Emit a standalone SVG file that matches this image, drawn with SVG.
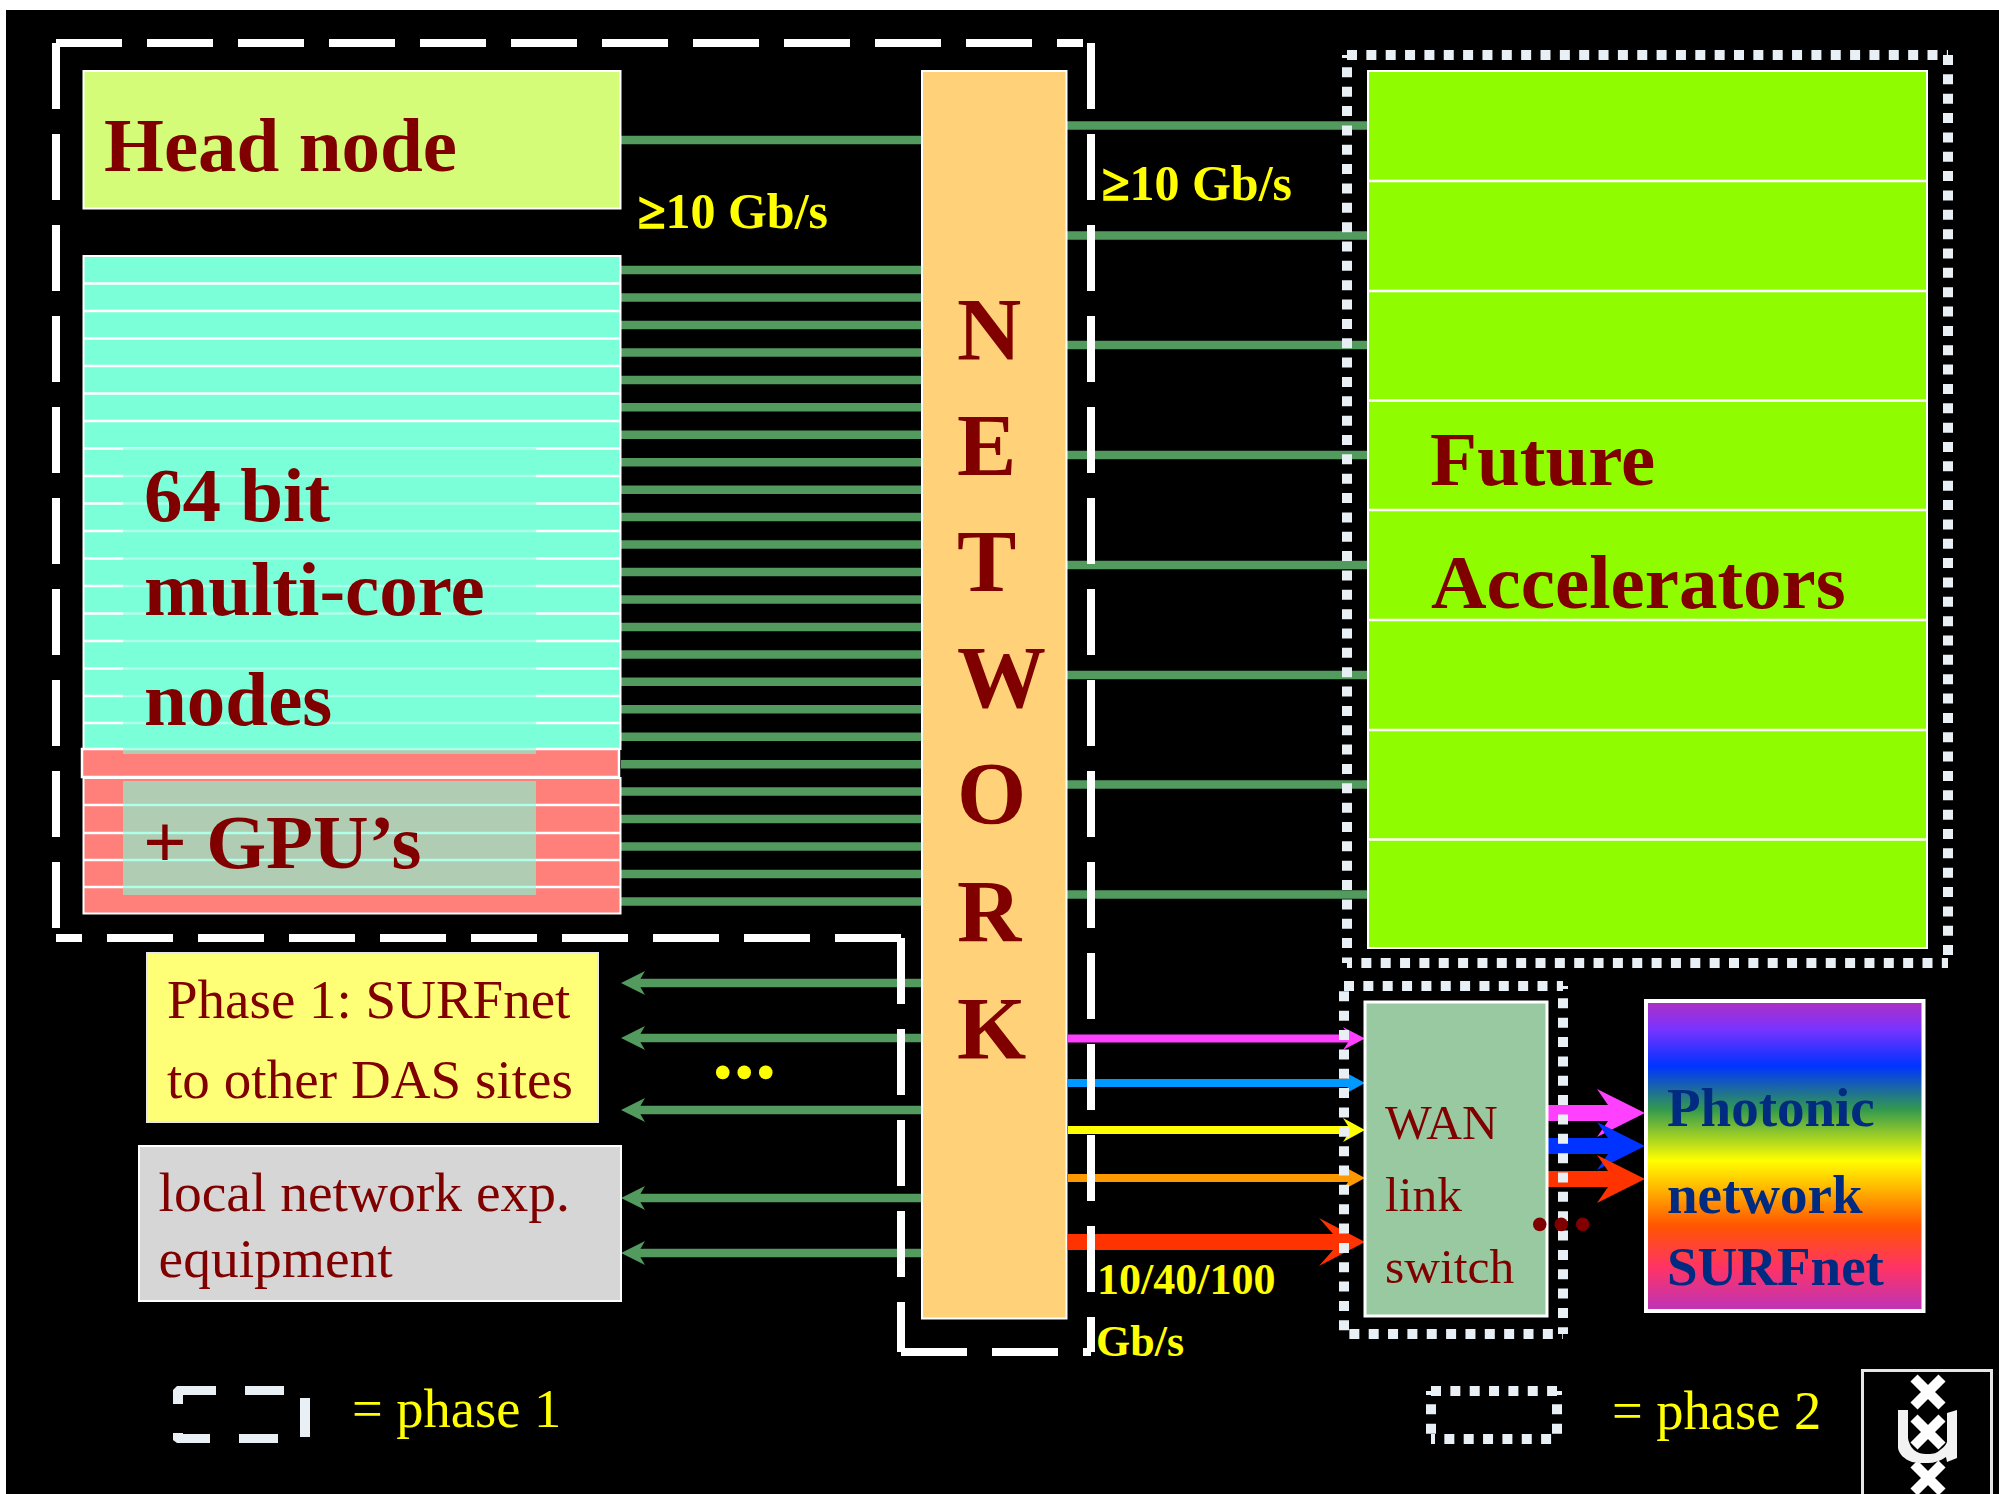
<svg xmlns="http://www.w3.org/2000/svg" width="1999" height="1494" viewBox="0 0 1999 1494">
<style>
.b{font-family:"Liberation Serif","Times New Roman",serif;font-weight:bold}
.r{font-family:"Liberation Serif","Times New Roman",serif}
.big{font-size:77px;fill:#800000}
.net{font-size:89px;fill:#800000}
.rate{font-size:50px;fill:#ffff00}
.ge{stroke:#ffff00;stroke-width:1.500}
.phase{font-size:55px;fill:#800000}
.wan{font-size:49.500px;fill:#800000}
.ph{font-size:55px;fill:#002b80}
.leg{font-size:54.500px;fill:#ffff00}
.gl{stroke:#529a5e;stroke-width:8.500;fill:none}
.rowline{stroke:#fff;stroke-width:2.500}
.dash{fill:none;stroke:#fff;stroke-width:8;stroke-dasharray:66 25}
.dot{fill:none;stroke:#e8eff5;stroke-width:10;stroke-dasharray:10 9.350}
.sol{fill:#e8eff5}
.x{stroke:#fff;stroke-width:10;fill:none}
</style>
<defs>
<linearGradient id="rainbow" x1="0" y1="0" x2="0" y2="1">
<stop offset="0" stop-color="#b030c0"/>
<stop offset="0.09" stop-color="#7a33ff"/>
<stop offset="0.21" stop-color="#0033ff"/>
<stop offset="0.35" stop-color="#33994f"/>
<stop offset="0.515" stop-color="#ffff00"/>
<stop offset="0.725" stop-color="#ff5500"/>
<stop offset="0.86" stop-color="#ff3366"/>
<stop offset="1" stop-color="#bb33bb"/>
</linearGradient>
<marker id="mg" markerUnits="userSpaceOnUse" markerWidth="24" markerHeight="26" refX="7" refY="13" orient="auto"><path d="M24 13L0 1L7 13L0 25Z" fill="#529a5e"/></marker>
</defs>
<rect x="6" y="10" width="1993" height="1484" fill="#000"/>

<g id="connectors">
<path class="gl" d="M621 140H922"/>
<path class="gl" d="M621 270H922M621 297.500H922M621 325H922M621 352.400H922M621 379.900H922M621 407.300H922M621 434.800H922M621 462.200H922M621 489.700H922M621 517.100H922M621 544.600H922M621 572H922M621 599.500H922M621 626.900H922M621 654.400H922M621 681.800H922M621 709.300H922M621 736.700H922M621 764.200H922M621 791.600H922M621 819.100H922M621 846.500H922M621 874H922M621 901.400H922"/>
<path class="gl" d="M1067 125.500H1368M1067 235.500H1368M1067 345H1368M1067 455H1368M1067 565H1368M1067 675H1368M1067 784.500H1368M1067 894.500H1368"/>
<path class="gl" marker-end="url(#mg)" d="M922 983H638"/>
<path class="gl" marker-end="url(#mg)" d="M922 1038H638"/>
<path class="gl" marker-end="url(#mg)" d="M922 1110H638"/>
<path class="gl" marker-end="url(#mg)" d="M922 1198H638"/>
<path class="gl" marker-end="url(#mg)" d="M922 1253H638"/>
<path fill="#ff40ff" d="M1068 1034.500H1348L1343 1027L1365 1038.500L1343 1050L1348 1042.500H1068Z"/>
<path fill="#0099ff" d="M1068 1079H1348L1343 1071L1365 1083L1343 1095L1348 1087H1068Z"/>
<path fill="#ffff00" d="M1068 1126H1348L1343 1118L1365 1130L1343 1142L1348 1134H1068Z"/>
<path fill="#ff9900" d="M1068 1174H1348L1343 1166L1365 1178L1343 1190L1348 1182H1068Z"/>
<path fill="#ff3300" d="M1068 1234H1333L1319 1218L1365 1242L1319 1266L1333 1250H1068Z"/>
<path fill="#ff40ff" d="M1547 1105H1608L1597 1089L1645 1113L1597 1137L1608 1121H1547Z"/>
<path fill="#0033ff" d="M1547 1138H1608L1597 1122L1645 1146L1597 1170L1608 1154H1547Z"/>
<path fill="#ff3300" d="M1547 1171H1608L1597 1155L1645 1179L1597 1203L1608 1187H1547Z"/>
</g>

<g id="head-node">
<rect x="83.500" y="71" width="537" height="137.500" fill="#d4fc79" stroke="#fff" stroke-width="2"/>
<text class="b big" x="104" y="171">Head node</text>
</g>

<g id="compute-nodes">
<rect x="83.500" y="256" width="537" height="493" fill="#7bffd9" stroke="#fff" stroke-width="2"/>
<path class="rowline" d="M83 283.500H621M83 311H621M83 338.500H621M83 366H621M83 393.500H621M83 421H621M83 448.500H621M83 476H621M83 503.500H621M83 531H621M83 558.500H621M83 586H621M83 613.500H621M83 641H621M83 668.500H621M83 696H621M83 723H621"/>
<rect x="82" y="749" width="537" height="28" fill="#ff7f7a" stroke="#fff" stroke-width="2.500"/>
<rect x="83.500" y="778" width="537" height="135.500" fill="#ff7f7a" stroke="#fff" stroke-width="2"/>
<path class="rowline" d="M83 805H621M83 833H621M83 860H621M83 887H621"/>
<rect x="123" y="448" width="413" height="306" fill="#7bffd9" fill-opacity="0.6"/>
<rect x="123" y="781" width="413" height="114" fill="#7bffd9" fill-opacity="0.6"/>
<text class="b big" x="144" y="520.500">64 bit</text>
<text class="b big" x="144" y="614.500">multi-core</text>
<text class="b big" x="144" y="725">nodes</text>
<text class="b big" x="143" y="868">+ GPU’s</text>
</g>

<g id="network">
<rect x="922" y="71" width="144.500" height="1247.500" fill="#ffd27a" stroke="#fff" stroke-width="2"/>
<text class="b net" x="957" y="359">N</text>
<text class="b net" x="957" y="475">E</text>
<text class="b net" x="957" y="591">T</text>
<text class="b net" x="957" y="707">W</text>
<text class="b net" x="957" y="823">O</text>
<text class="b net" x="957" y="941">R</text>
<text class="b net" x="957" y="1058">K</text>
</g>

<g id="accelerators">
<rect x="1368" y="71" width="559" height="877" fill="#90fc00" stroke="#fff" stroke-width="2"/>
<path class="rowline" d="M1368 181H1927M1368 291H1927M1368 400.500H1927M1368 510H1927M1368 620H1927M1368 730H1927M1368 839.500H1927"/>
<text class="b big" x="1430" y="485">Future</text>
<text class="b big" x="1431" y="608">Accelerators</text>
</g>

<g id="das-sites">
<rect x="147" y="953" width="451" height="169" fill="#ffff77" stroke="#e8e8e8" stroke-width="2"/>
<text class="r phase" x="167" y="1018">Phase 1: SURFnet</text>
<text class="r phase" x="167" y="1098" textLength="406">to other DAS sites</text>
<text class="b" x="714" y="1089" font-size="50" fill="#ffff00" letter-spacing="4">•••</text>
</g>

<g id="local-equipment">
<rect x="139" y="1146" width="482" height="155" fill="#d6d6d6" stroke="#fff" stroke-width="2"/>
<text class="r" font-size="55.500" fill="#800000" x="158.500" y="1211">local network exp.</text>
<text class="r" font-size="55.500" fill="#800000" x="158.500" y="1277">equipment</text>
</g>

<g id="photonic">
<rect x="1646" y="1001" width="277.500" height="310" fill="url(#rainbow)" stroke="#fff" stroke-width="4"/>
<text class="b ph" x="1667" y="1126">Photonic</text>
<text class="b ph" x="1667" y="1212.500">network</text>
<text class="b ph" x="1667" y="1285">SURFnet</text>
</g>

<g id="phase1-boundary">
<path class="dash" d="M56 43H1083"/>
<path class="dash" d="M1091 43V1352"/>
<path class="dash" d="M901 1352H1091"/>
<path class="dash" d="M901 938V1352"/>
<path class="dash" d="M901 938H56"/>
<path class="dash" d="M56 43V938"/>
</g>

<g id="phase2-boundary">
<path class="dot" d="M1347 55H1948"/>
<path class="dot" d="M1347 55V963" stroke-dashoffset="7"/>
<path class="dot" d="M1948 55V963"/>
<path class="dot" d="M1347 963H1948" stroke-dashoffset="5"/>
<path class="dot" d="M1344 986H1563"/>
<path class="dot" d="M1344 986V1334" stroke-dashoffset="14"/>
<path class="dot" d="M1563 986V1334" stroke-dashoffset="7"/>
<path class="dot" d="M1344 1334H1563" stroke-dashoffset="14"/>
</g>

<g id="wan-switch">
<rect x="1365" y="1002" width="182" height="314" fill="#99c9a0" stroke="#fff" stroke-width="3"/>
<text class="r wan" x="1385" y="1139">WAN</text>
<text class="r wan" x="1385" y="1211">link</text>
<text class="r wan" x="1385" y="1283">switch</text>
<text class="b" x="1531" y="1241" font-size="50" fill="#800000" letter-spacing="4">•••</text>
</g>

<g id="rate-labels">
<text class="b rate" x="638" y="228"><tspan class="ge">≥</tspan>10 Gb/s</text>
<text class="b rate" x="1102" y="200"><tspan class="ge">≥</tspan>10 Gb/s</text>
<text class="b" x="1097" y="1294" font-size="44" fill="#ffff00">10/40/100</text>
<text class="b" x="1096" y="1356" font-size="44" fill="#ffff00">Gb/s</text>
</g>

<g id="legend-phase1">
<path class="sol" d="M173 1404V1390L177 1386H216V1395H183V1404Z"/>
<rect class="sol" x="245" y="1386" width="39" height="9"/>
<rect class="sol" x="300" y="1398" width="10" height="39"/>
<path class="sol" d="M173 1433H183V1434H210V1443H177L173 1440Z"/>
<rect class="sol" x="239" y="1434" width="39" height="9"/>
<text class="r leg" x="352" y="1427">= phase 1</text>
</g>

<g id="legend-phase2">
<path class="dot" d="M1431 1391H1557"/>
<path class="dot" d="M1431 1391V1439" stroke-dashoffset="6"/>
<path class="dot" d="M1557 1391V1439" stroke-dashoffset="6"/>
<path class="dot" d="M1431 1439H1557" stroke-dashoffset="6"/>
<text class="r leg" x="1612" y="1429">= phase 2</text>
</g>

<g id="logo">
<rect x="1862.500" y="1370.500" width="129" height="130" fill="#000" stroke="#e6e6e6" stroke-width="3"/>
<path class="x" d="M1914 1378L1942 1406M1942 1378L1914 1406M1914 1418L1942 1446M1942 1418L1914 1446M1914 1464L1942 1492M1942 1464L1914 1492"/>
<path fill="#f2f2f2" d="M1898 1410H1908V1438C1909 1445 1913 1450 1917 1452C1921 1454 1925 1454 1928 1454C1934 1454 1937 1453 1940 1450C1944 1447 1946 1445 1947 1442V1413L1957 1410V1458L1947 1462L1946 1457C1940 1461 1934 1463 1928 1463C1921 1463 1916 1463 1912 1462C1904 1459 1899 1454 1898 1448Z"/>
</g>
</svg>
